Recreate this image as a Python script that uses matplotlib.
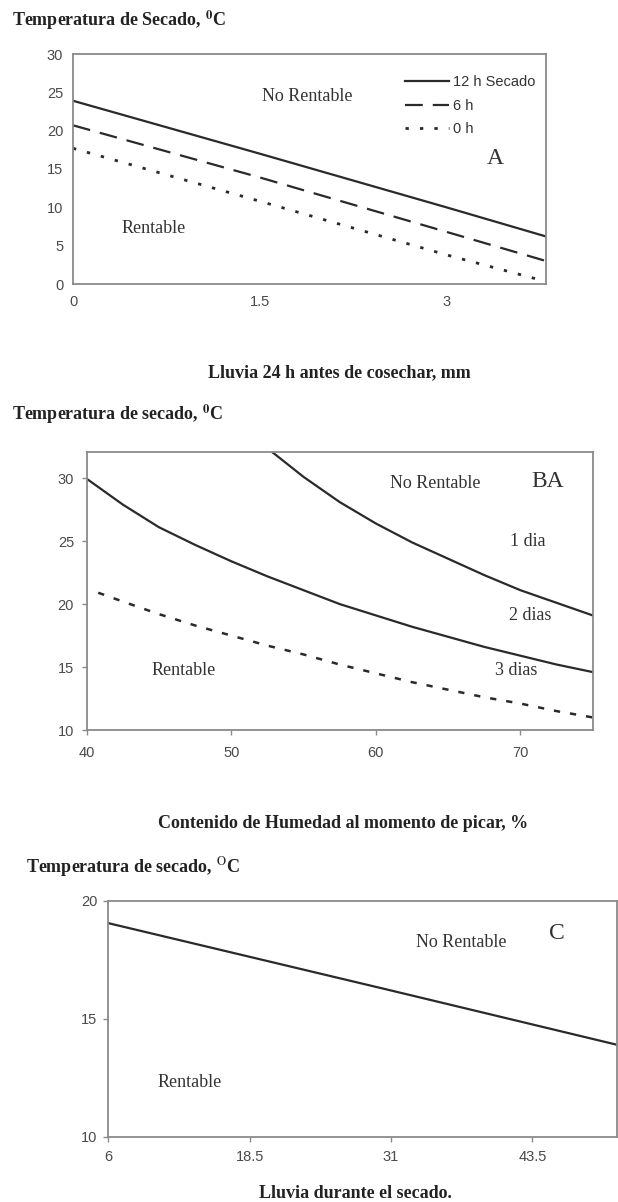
import matplotlib
matplotlib.use("Agg")
import matplotlib.pyplot as plt

plt.rcParams['font.family'] = ['Liberation Serif', 'DejaVu Serif']
plt.rcParams['mathtext.fontset'] = 'stix'

# --- datos panel A: lluvia 24 h antes de cosechar (mm) ---
rain_a = [0, 1.5, 3, 3.8]
a_12h = [23.9, 17.0, 10.0, 6.2]
a_6h = [20.7, 13.9, 6.8, 3.0]
rain_a0 = [0, 1.5, 3, 3.76]
a_0h = [17.7, 10.8, 3.8, 0.5]
a_labels = ["12 h Secado", "6 h", "0 h"]
a_xticks = [0, 1.5, 3]
a_yticks = [0, 5, 10, 15, 20, 25, 30]

# --- datos panel B: humedad al momento de picar (%) ---
hum_1 = [52.8, 55, 57.5, 60, 62.5, 65, 67.5, 70, 72.5, 75]
b_1dia = [32.1, 30.1, 28.1, 26.4, 24.9, 23.6, 22.3, 21.1, 20.1, 19.1]
hum_2 = [40, 42.5, 45, 47.5, 50, 52.5, 55, 57.5, 60, 62.5, 65, 67.5, 70, 72.5, 75]
b_2dias = [29.95, 27.9, 26.1, 24.7, 23.4, 22.2, 21.1, 20.0, 19.1, 18.2, 17.4, 16.6, 15.9, 15.2, 14.6]
hum_3 = [40.8, 42.5, 45, 47.5, 50, 52.5, 55, 57.5, 60, 62.5, 65, 67.5, 70, 72.5, 75]
b_3dias = [20.9, 20.2, 19.2, 18.3, 17.5, 16.7, 16.0, 15.2, 14.5, 13.8, 13.2, 12.6, 12.1, 11.5, 11.0]
b_xticks = [40, 50, 60, 70]
b_yticks = [10, 15, 20, 25, 30]

# --- datos panel C: lluvia durante el secado ---
rain_c = [6, 31, 51]
c_line = [19.05, 16.2, 13.9]
c_xticks = [6, 18.5, 31, 43.5]
c_yticks = [10, 15, 20]

W, H = 618, 1202
fig = plt.figure(figsize=(W / 100, H / 100), dpi=100)

line_col = '#2a2a2a'
spine_col = '#8a8a8a'
tick_col = '#4a4a4a'


def px_axes(left, top, right, bottom):
    return fig.add_axes([left / W, 1 - bottom / H, (right - left) / W, (bottom - top) / H])


def style(ax, length, xpad, ypad):
    for s in ax.spines.values():
        s.set_color(spine_col)
        s.set_linewidth(1.3)
    ax.tick_params(direction='out', length=length, width=1, color=spine_col,
                   labelcolor=tick_col, labelsize=10.5)
    ax.tick_params(axis='x', pad=xpad)
    ax.tick_params(axis='y', pad=ypad)
    for lab in ax.get_xticklabels() + ax.get_yticklabels():
        lab.set_fontfamily('Liberation Sans')


def fig_label(x, y, s, ha='left'):
    fig.text(x / W, 1 - y / H, s, ha=ha, va='center', fontsize=13,
             fontweight='bold', color='#222222')


# ---------------- Panel A ----------------
ax = px_axes(73, 54, 546, 284)
ax.plot(rain_a, a_12h, color=line_col, lw=1.6, label=a_labels[0])
ax.plot(rain_a, a_6h, color=line_col, lw=1.6, dashes=(8, 4.5), label=a_labels[1])
ax.plot(rain_a0, a_0h, color=line_col, lw=2.0, dashes=(1.2, 4), label=a_labels[2])
ax.set_xlim(0, 3.8)
ax.set_ylim(0, 30)
ax.set_xticks(a_xticks)
ax.set_xticklabels(["0", "1.5", "3"])
ax.set_yticks(a_yticks)
style(ax, 0, 8, 7)
leg = ax.legend(loc='upper left', bbox_to_anchor=(0.702, 0.908), frameon=False,
                prop={'family': 'Liberation Sans', 'size': 10.5},
                handlelength=3.0, handletextpad=0.3, labelspacing=0.65,
                borderpad=0, borderaxespad=0)
for t in leg.get_texts():
    t.set_color('#333333')
ax.text(1.88, 24.4, "No Rentable", ha='center', va='center', fontsize=13, color='#333333')
ax.text(0.65, 7.3, "Rentable", ha='center', va='center', fontsize=13, color='#333333')
ax.text(3.39, 16.4, "A", ha='center', va='center', fontsize=17, color='#333333')

fig_label(12, 20, r"Temperatura de Secado, $^{\mathbf{0}}$C")
fig_label(339, 373, "Lluvia 24 h antes de cosechar, mm", ha='center')

# ---------------- Panel B ----------------
ax = px_axes(86.7, 451.7, 592.7, 730)
ax.plot(hum_1, b_1dia, color=line_col, lw=1.6)
ax.plot(hum_2, b_2dias, color=line_col, lw=1.6)
ax.plot(hum_3, b_3dias, color=line_col, lw=1.8, dashes=(2.5, 4))
ax.set_xlim(40, 75)
ax.set_ylim(10, 32.1)
ax.set_xticks(b_xticks)
ax.set_yticks(b_yticks)
style(ax, 3.6, 8, 5.5)
ax.text(64.1, 29.6, "No Rentable", ha='center', va='center', fontsize=13, color='#333333')
ax.text(71.9, 29.7, "BA", ha='center', va='center', fontsize=17, color='#333333')
ax.text(70.5, 25.0, "1 dia", ha='center', va='center', fontsize=13, color='#333333')
ax.text(70.7, 19.1, "2 dias", ha='center', va='center', fontsize=13, color='#333333')
ax.text(69.7, 14.7, "3 dias", ha='center', va='center', fontsize=13, color='#333333')
ax.text(46.7, 14.7, "Rentable", ha='center', va='center', fontsize=13, color='#333333')

fig_label(12, 414, r"Temperatura de secado, $^{\mathbf{0}}$C")
fig_label(343, 823, "Contenido de Humedad al momento de picar, %", ha='center')

# ---------------- Panel C ----------------
ax = px_axes(108.3, 900.7, 617.3, 1137)
ax.plot(rain_c, c_line, color=line_col, lw=1.6)
ax.set_xlim(6, 51)
ax.set_ylim(10, 20)
ax.set_xticks(c_xticks)
ax.set_xticklabels(["6", "18.5", "31", "43.5"])
ax.set_yticks(c_yticks)
style(ax, 3.6, 6, 4.3)
ax.text(37.2, 18.24, "No Rentable", ha='center', va='center', fontsize=13, color='#333333')
ax.text(45.7, 18.6, "C", ha='center', va='center', fontsize=17, color='#333333')
ax.text(13.2, 12.3, "Rentable", ha='center', va='center', fontsize=13, color='#333333')

fig_label(26, 867, r"Temperatura de secado, $^{\mathrm{O}}$C")
fig_label(355, 1193, "Lluvia durante el secado.", ha='center')

fig.savefig("out.png", dpi=100)
